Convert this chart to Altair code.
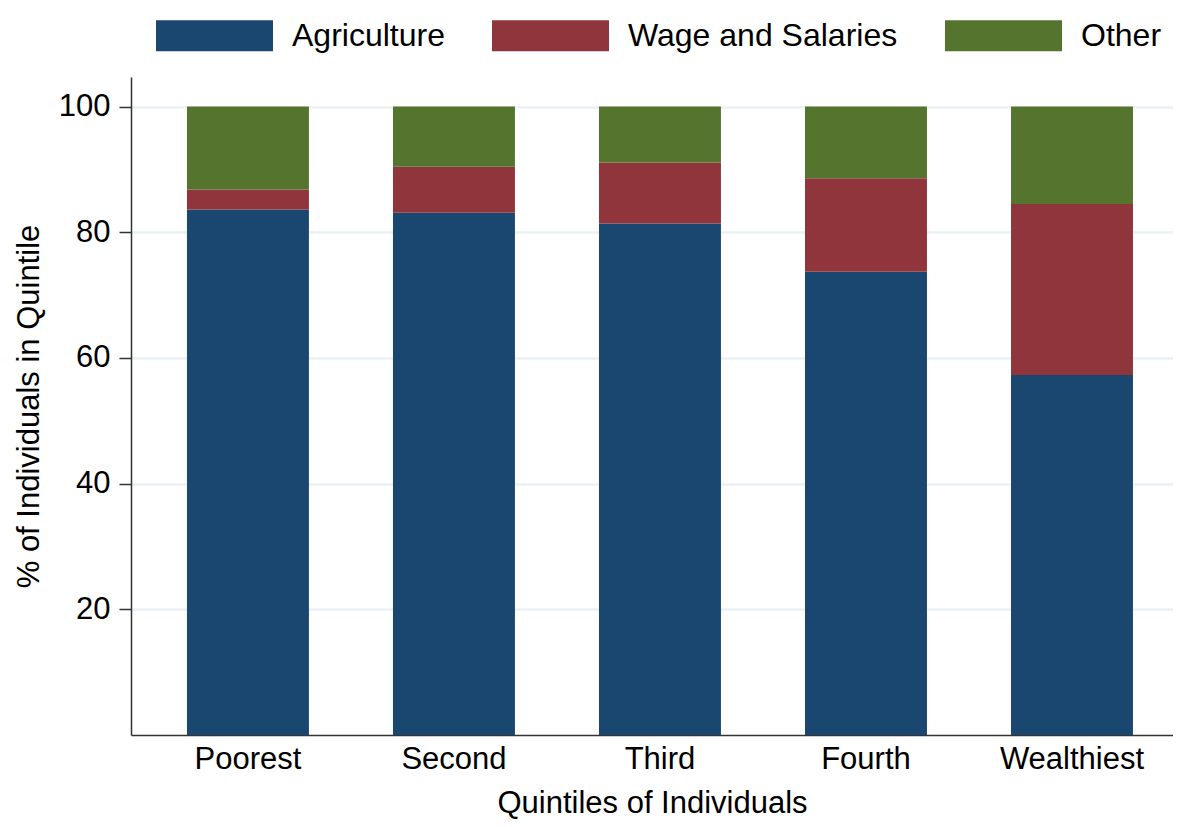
import altair as alt
import pandas as pd

quintiles = ["Poorest", "Second", "Third", "Fourth", "Wealthiest"]
sources = ["Agriculture", "Wage and Salaries", "Other"]
agriculture = [83.6, 83.1, 81.4, 73.7, 57.3]
wages = [3.2, 7.3, 9.7, 14.9, 27.2]
other = [13.2, 9.6, 8.9, 11.4, 15.5]
y_ticks = [20, 40, 60, 80, 100]
colors = ["#1a476f", "#90353b", "#55752f"]

rows = []
for i, q in enumerate(quintiles):
    for j, (s, vals) in enumerate(zip(sources, [agriculture, wages, other])):
        rows.append({"quintile": q, "source": s, "value": vals[i], "k": j})
df = pd.DataFrame(rows)

FONT = "Liberation Sans"

chart = alt.Chart(df).mark_bar().encode(
    x=alt.X(
        "quintile:N",
        sort=quintiles,
        title="Quintiles of Individuals",
        scale=alt.Scale(paddingInner=0.408, paddingOuter=0.233, align=0.583),
        axis=alt.Axis(
            labelAngle=0, ticks=False, grid=False,
            labelFontSize=31, titleFontSize=31, labelPadding=9,
            titleBaseline="alphabetic", titleY=77,
            domainColor="#333333", domainWidth=1.5,
            labelColor="#000000", titleColor="#000000",
            labelFont=FONT, titleFont=FONT, titleFontWeight="normal",
        ),
    ),
    y=alt.Y(
        "value:Q",
        stack="zero",
        title="% of Individuals in Quintile",
        scale=alt.Scale(domain=[0, 104.7], nice=False),
        axis=alt.Axis(
            values=y_ticks, grid=True, gridColor="#eaf2f3", gridWidth=2.5,
            tickSize=12, tickColor="#333333", tickWidth=1.5,
            domainColor="#333333", domainWidth=1.5,
            labelFontSize=31, titleFontSize=31, labelPadding=9, titlePadding=13,
            labelColor="#000000", titleColor="#000000",
            labelFont=FONT, titleFont=FONT, titleFontWeight="normal",
        ),
    ),
    color=alt.Color(
        "source:N",
        sort=sources,
        scale=alt.Scale(domain=sources, range=colors),
        legend=alt.Legend(
            title=None, orient="none", direction="horizontal",
            legendX=25, legendY=-100,
            symbolType="M-1,-0.265L1,-0.265L1,0.265L-1,0.265Z",
            symbolSize=13689, symbolStrokeWidth=0, symbolOpacity=1,
            labelFontSize=32, labelFont=FONT, labelColor="#000000",
            labelLimit=0, labelOffset=19, columnPadding=47, padding=0,
        ),
    ),
    order=alt.Order("k:Q", sort="ascending"),
).properties(
    width=1042,
    height=658,
    padding={"left": 123, "top": 69, "right": 0, "bottom": 84},
    autosize=alt.AutoSizeParams(type="none"),
).configure(background="#ffffff").configure_view(stroke=None)

chart.save("out.html", embed_options={"renderer": "svg", "actions": False})
